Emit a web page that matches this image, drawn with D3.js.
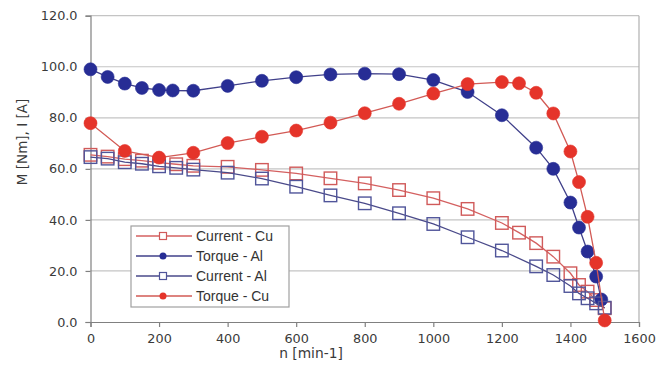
<!DOCTYPE html>
<html><head><meta charset="utf-8">
<script src="https://cdn.jsdelivr.net/npm/d3@7"></script>
<style>html,body{margin:0;padding:0;background:#fff;}svg{display:block;}</style>
</head><body>
<svg id="chart" width="667" height="375"></svg>
<script>
// Data (n in min-1, values in Nm / A)
const currentCuN = [0,50,100,150,200,250,300,400,500,600,700,800,900,1000,1100,1200,1250,1300,1350,1400,1425,1450,1475,1500];
const currentCuV = [65.5,64.8,63.8,63.2,62.4,61.8,61.2,60.8,59.6,58.2,56.3,54.3,51.7,48.5,44.3,38.8,35.0,30.9,25.6,19.1,14.5,11.9,8.6,5.4];

const torqueAlN = [0,50,100,150,200,240,300,400,500,600,700,800,900,1000,1100,1200,1300,1350,1400,1425,1450,1475,1490];
const torqueAlV = [99.0,96.0,93.4,91.7,90.9,90.7,90.6,92.5,94.5,95.9,97.0,97.3,97.1,94.8,90.1,81.0,68.3,60.0,46.8,37.0,27.6,17.8,8.8];

const currentAlN = [0,50,100,150,200,250,300,400,500,600,700,800,900,1000,1100,1200,1300,1350,1400,1425,1450,1475,1500];
const currentAlV = [64.6,64.0,62.6,62.0,61.0,60.4,59.7,58.5,56.2,53.0,49.6,46.5,42.6,38.4,33.2,28.0,21.8,18.4,14.1,11.2,9.3,7.3,5.6];

const torqueCuN = [0,100,200,300,400,500,600,700,800,900,1000,1100,1200,1250,1300,1350,1400,1425,1450,1475,1500];
const torqueCuV = [77.9,67.0,64.4,66.3,70.1,72.6,75.0,78.1,81.8,85.5,89.5,93.2,94.0,93.5,89.8,81.7,66.8,54.8,41.2,23.2,0.6];

const seriesNames = ["Current - Cu","Torque - Al","Current - Al","Torque - Cu"];
const xTicks = [0,200,400,600,800,1000,1200,1400,1600];
const yTicks = [0,20,40,60,80,100,120];
const xTitle = "n [min-1]";
const yTitle = "M [Nm], I [A]";

const series = [
  {name: seriesNames[0], n: currentCuN, v: currentCuV, marker: "square", line: "#d46060", mark: "#d05a5a"},
  {name: seriesNames[1], n: torqueAlN,  v: torqueAlV,  marker: "circle", line: "#40408a", mark: "#272d95"},
  {name: seriesNames[2], n: currentAlN, v: currentAlV, marker: "square", line: "#4a4a8a", mark: "#50559a"},
  {name: seriesNames[3], n: torqueCuN,  v: torqueCuV,  marker: "circle", line: "#d25a55", mark: "#e5342a"}
];

const svg = d3.select("#chart");
const L = 90.5, R = 639, T = 15.7, B = 322;
const x = d3.scaleLinear().domain([0,1600]).range([L,R]);
const y = d3.scaleLinear().domain([0,120]).range([B,T]);
const font = "'DejaVu Sans', Arial, sans-serif";

// gridlines
svg.append("g").selectAll("line").data(yTicks.filter(d=>d>0)).join("line")
  .attr("x1",L).attr("x2",R).attr("y1",d=>y(d)).attr("y2",d=>y(d))
  .attr("stroke","#c4c4c4").attr("stroke-width",1.2);
// right border
svg.append("line").attr("x1",R).attr("x2",R).attr("y1",T).attr("y2",B)
  .attr("stroke","#b0b0b0").attr("stroke-width",1.2);

// axes
const yAxis = d3.axisLeft(y).tickValues(yTicks).tickFormat(d3.format(".1f")).tickSize(5).tickPadding(8);
const xAxis = d3.axisBottom(x).tickValues(xTicks).tickFormat(d3.format("d")).tickSize(5).tickPadding(7);
const gy = svg.append("g").attr("transform",`translate(${L},0)`).call(yAxis);
const gx = svg.append("g").attr("transform",`translate(0,${B})`).call(xAxis);
[gx,gy].forEach(g=>{
  g.select(".domain").attr("stroke","#808080").attr("stroke-width",1.2);
  g.selectAll(".tick line").attr("stroke","#808080").attr("stroke-width",1.2);
  g.selectAll(".tick text").attr("fill","#3a3a3a").style("font-family",font).style("font-size","12.8px");
});

// axis titles
svg.append("text").attr("x",311).attr("y",358).attr("text-anchor","middle")
  .style("font-family",font).style("font-size","13.8px").attr("fill","#3a3a3a").text(xTitle);
svg.append("text").attr("transform","translate(27,142) rotate(-90)").attr("text-anchor","middle")
  .style("font-family",font).style("font-size","13.5px").attr("fill","#3a3a3a").text(yTitle);

// series
const lineGen = d3.line().x(d=>x(d[0])).y(d=>y(d[1]));
series.forEach(s=>{
  const pts = s.n.map((n,i)=>[n, s.v[i]]);
  const g = svg.append("g");
  g.append("path").attr("d",lineGen(pts)).attr("fill","none").attr("stroke",s.line).attr("stroke-width",1.3);
  if (s.marker === "circle") {
    g.selectAll("circle").data(pts).join("circle")
      .attr("cx",d=>x(d[0])).attr("cy",d=>y(d[1])).attr("r",6.5)
      .attr("fill",s.mark).attr("stroke",s.mark).attr("stroke-opacity",0.6).attr("stroke-width",1);
  } else {
    const sz = 12.5;
    g.selectAll("rect").data(pts).join("rect")
      .attr("x",d=>x(d[0])-sz/2).attr("y",d=>y(d[1])-sz/2).attr("width",sz).attr("height",sz)
      .attr("fill","none").attr("stroke",s.mark).attr("stroke-width",1.4);
  }
});

// legend
const lg = svg.append("g");
lg.append("rect").attr("x",131).attr("y",226).attr("width",158).attr("height",81)
  .attr("fill","#fff").attr("stroke","#a0a0a0").attr("stroke-width",1.2);
series.forEach((s,i)=>{
  const yy = 236 + i*20;
  lg.append("line").attr("x1",136).attr("x2",192).attr("y1",yy).attr("y2",yy)
    .attr("stroke",s.line).attr("stroke-width",1.3);
  if (s.marker === "circle") {
    lg.append("circle").attr("cx",163).attr("cy",yy).attr("r",3.5).attr("fill",s.mark);
  } else {
    lg.append("rect").attr("x",159.5).attr("y",yy-3.5).attr("width",7).attr("height",7)
      .attr("fill","#fff").attr("stroke",s.mark).attr("stroke-width",1.2);
  }
  lg.append("text").attr("x",196).attr("y",yy).attr("dy","0.36em")
    .style("font-family","Arial, 'Liberation Sans', sans-serif").style("font-size","14px")
    .attr("fill","#333").text(s.name);
});
</script>
</body></html>
